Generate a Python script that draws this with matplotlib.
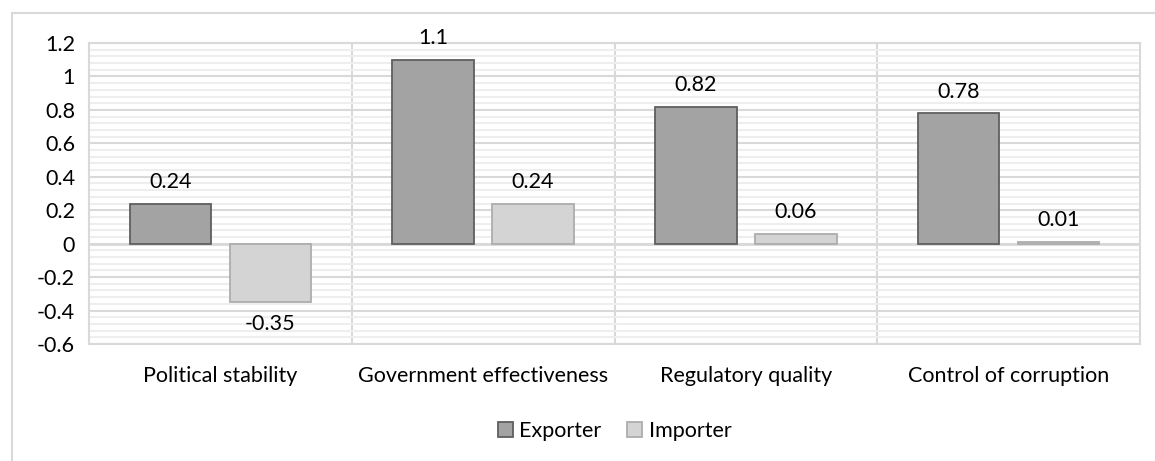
import numpy as np
import matplotlib.pyplot as plt
from matplotlib.patches import Rectangle
from matplotlib.ticker import MultipleLocator

plt.rcParams['font.family'] = ['Lato', 'DejaVu Sans']

categories = ['Political stability', 'Government effectiveness',
              'Regulatory quality', 'Control of corruption']
exporter = [0.24, 1.1, 0.82, 0.78]
importer = [-0.35, 0.24, 0.06, 0.01]
value_labels_exp = ['0.24', '1.1', '0.82', '0.78']
value_labels_imp = ['-0.35', '0.24', '0.06', '0.01']
yticks = [-0.6, -0.4, -0.2, 0, 0.2, 0.4, 0.6, 0.8, 1, 1.2]

fs = 15.5

fig = plt.figure(figsize=(11.55, 4.61), dpi=100)

# light chart frame (only top and left edges fall inside the image)
fig.patches.append(Rectangle((12/1155, -0.1), 1.2, 1 - 13/461 + 0.1,
                             transform=fig.transFigure, fill=False,
                             edgecolor='#d9d9d9', lw=1.5))

ax = fig.add_axes([89/1155, 1 - 344/461, (1140 - 89)/1155, (344 - 43)/461])

x = np.arange(len(categories))
w = 0.31
off = 0.19

ax.bar(x - off, exporter, w, color='#a3a3a3', edgecolor='#5f5f5f',
       lw=1.3, label='Exporter', zorder=3)
ax.bar(x + off, importer, w, color='#d4d4d4', edgecolor='#adadad',
       lw=1.3, label='Importer', zorder=3)

for xi, v, t in zip(x - off, exporter, value_labels_exp):
    ax.text(xi, v + 0.07, t, ha='center', va='bottom', fontsize=fs)
for xi, v, t in zip(x + off, importer, value_labels_imp):
    if v < 0:
        ax.text(xi, v - 0.07, t, ha='center', va='top', fontsize=fs)
    else:
        ax.text(xi, v + 0.07, t, ha='center', va='bottom', fontsize=fs)

ax.set_xlim(-0.5, len(categories) - 0.5)
ax.set_ylim(-0.6, 1.2)
ax.set_yticks(yticks)
ax.set_yticklabels([f'{t:g}' for t in yticks], fontsize=fs)
ax.yaxis.set_minor_locator(MultipleLocator(0.04))
ax.grid(which='major', axis='y', color='#d9d9d9', lw=1.5, zorder=0)
ax.grid(which='minor', axis='y', color='#eeeeee', lw=1.5, zorder=0)

# vertical dividers between categories
for xv in np.arange(0.5, len(categories) - 0.5, 1):
    ax.axvline(xv, color='#d9d9d9', lw=1.5, zorder=1)
ax.axhline(0, color='#d9d9d9', lw=2, zorder=2)

ax.set_xticks(x)
ax.set_xticklabels(categories, fontsize=fs)
ax.tick_params(axis='both', which='both', length=0)
ax.tick_params(axis='x', pad=16)
ax.tick_params(axis='y', pad=10)
for s in ax.spines.values():
    s.set_color('#d9d9d9')
    s.set_linewidth(1.5)

ax.legend(loc='center', bbox_to_anchor=(0.5, -0.29), ncol=2, frameon=False,
          fontsize=fs, handlelength=0.7, handleheight=0.7, handletextpad=0.3,
          columnspacing=1.2)

fig.savefig('out.png', dpi=100)
